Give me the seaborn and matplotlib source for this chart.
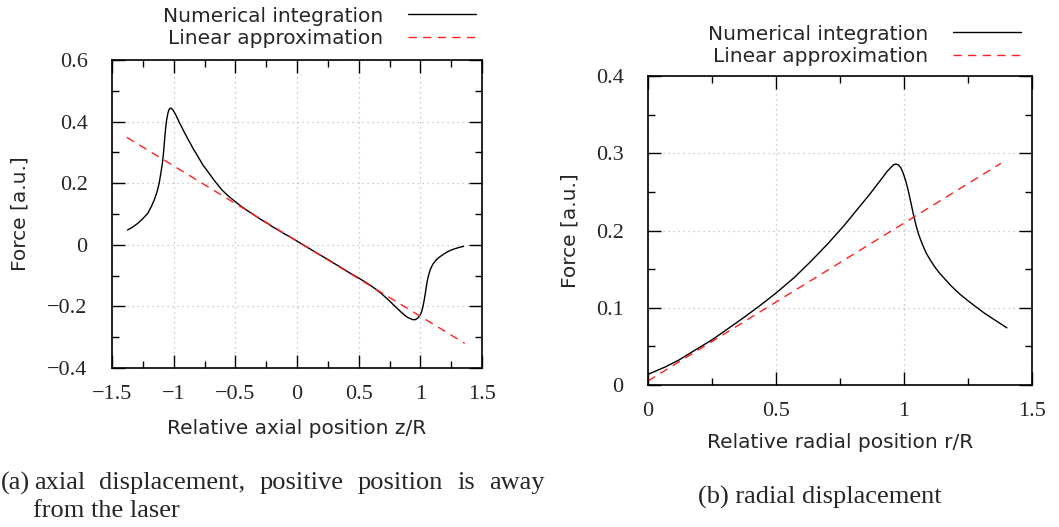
import numpy as np
import pandas as pd
import matplotlib
matplotlib.use("Agg")
import matplotlib.pyplot as plt
from matplotlib.ticker import MultipleLocator
import seaborn as sns

# ---------------- data ----------------
axial_z = [-1.374, -1.33, -1.29, -1.25, -1.21, -1.18, -1.158, -1.135, -1.118, -1.105,
           -1.092, -1.082, -1.074, -1.066, -1.058, -1.048, -1.039, -1.030, -1.021, -1.005,
           -0.987, -0.97, -0.955, -0.938, -0.921, -0.90, -0.88, -0.86, -0.842, -0.82,
           -0.80, -0.78, -0.763, -0.74, -0.72, -0.70, -0.684, -0.665, -0.645, -0.625,
           -0.605, -0.58, -0.55, -0.525, -0.5, -0.475, -0.45, -0.42, -0.395, -0.36,
           -0.33, -0.30, -0.263, -0.23, -0.2, -0.165, -0.132, -0.1, -0.066, -0.033,
           0.0, 0.05, 0.1, 0.15, 0.2, 0.261, 0.30, 0.35, 0.39, 0.43, 0.47, 0.5, 0.55, 0.6,
           0.645, 0.686, 0.725, 0.76, 0.79, 0.819, 0.84, 0.86, 0.88, 0.899, 0.92, 0.939,
           0.96, 0.979, 0.995, 1.004, 1.011, 1.018, 1.025, 1.031, 1.037, 1.043, 1.048,
           1.053, 1.059, 1.068, 1.078, 1.09, 1.105, 1.125, 1.145, 1.165, 1.19, 1.22,
           1.245, 1.271, 1.31, 1.351]
axial_force = [0.048, 0.058, 0.070, 0.085, 0.102, 0.125, 0.145, 0.172, 0.199, 0.230,
               0.263, 0.300, 0.339, 0.375, 0.403, 0.425, 0.438, 0.443, 0.444, 0.437,
               0.425, 0.411, 0.398, 0.385, 0.371, 0.355, 0.340, 0.326, 0.312, 0.298,
               0.284, 0.271, 0.259, 0.247, 0.236, 0.225, 0.216, 0.206, 0.196, 0.186,
               0.177, 0.167, 0.156, 0.148, 0.140, 0.132, 0.124, 0.116, 0.109, 0.100,
               0.092, 0.084, 0.075, 0.067, 0.059, 0.051, 0.043, 0.035, 0.028, 0.020,
               0.012, 0.000, -0.012, -0.024, -0.036, -0.050, -0.060, -0.072, -0.082, -0.092,
               -0.101, -0.108, -0.120, -0.133, -0.146, -0.159, -0.173, -0.186, -0.198, -0.209,
               -0.217, -0.224, -0.231, -0.236, -0.240, -0.243,
               -0.243, -0.238, -0.230, -0.224, -0.216, -0.206, -0.193, -0.180, -0.166, -0.151,
               -0.138, -0.125, -0.112, -0.097, -0.084, -0.072, -0.061, -0.051, -0.043, -0.037,
               -0.030, -0.023, -0.018, -0.014, -0.009, -0.005]
axial_lin_z = [-1.38, 1.36]
axial_lin_force = [0.349, -0.320]

radial_r = [0.0, 0.067, 0.119, 0.183, 0.248, 0.313, 0.377, 0.442, 0.5, 0.571,
            0.636, 0.700, 0.765, 0.829, 0.864, 0.894, 0.915, 0.933, 0.947, 0.959,
            0.968, 0.978, 0.988, 0.997, 1.007, 1.017, 1.027, 1.036, 1.046, 1.055,
            1.066, 1.077, 1.088, 1.104, 1.12, 1.136, 1.152, 1.185, 1.217, 1.25,
            1.282, 1.314, 1.346, 1.374, 1.402]
radial_force = [0.0138, 0.0233, 0.032, 0.045, 0.058, 0.073, 0.088, 0.104, 0.119, 0.139,
                0.160, 0.182, 0.206, 0.232, 0.246, 0.259, 0.268, 0.276, 0.281, 0.285,
                0.286, 0.285, 0.281, 0.274, 0.264, 0.251, 0.236, 0.222, 0.208, 0.197,
                0.187, 0.178, 0.170, 0.161, 0.153, 0.146, 0.140, 0.128, 0.118, 0.109,
                0.101, 0.093, 0.086, 0.080, 0.074]
radial_lin_r = [0.0, 1.379]
radial_lin_force = [0.0052, 0.287]

series_labels = ["Numerical integration", "Linear approximation"]
axial_xticks = [-1.5, -1, -0.5, 0, 0.5, 1, 1.5]
axial_yticks = [-0.4, -0.2, 0, 0.2, 0.4, 0.6]
radial_xticks = [0, 0.5, 1, 1.5]
radial_yticks = [0, 0.1, 0.2, 0.3, 0.4]

caption_a_line1 = "axial displacement, positive position is away"
caption_a_line2 = "from the laser"
caption_b = "(b) radial displacement"

# ---------------- style ----------------
sns.set_theme(style="ticks")
plt.rcParams["font.family"] = ["DejaVu Sans"]
plt.rcParams["axes.unicode_minus"] = True

W, H = 1059, 527
fig = plt.figure(figsize=(W / 100, H / 100), dpi=100)

def px_axes(l, t, r, b):
    return [l / W, 1 - b / H, (r - l) / W, (b - t) / H]

ax1 = fig.add_axes(px_axes(112, 60, 482, 368))
ax2 = fig.add_axes(px_axes(648, 76, 1032, 385))

SERIF = "Liberation Serif"
SANS = "DejaVu Sans"
TICK_FS = 16
LABEL_FS = 14.5

def fmt(v):
    s = ("%g" % v)
    return s.replace("-", "\u2212")

def style_axes(ax, xticks, yticks, xminor, yminor, xlab, ylab, xlab_y, ylab_x):
    ax.set_xlim(xticks[0], xticks[-1])
    ax.set_ylim(yticks[0], yticks[-1])
    ax.set_xticks(xticks)
    ax.set_yticks(yticks)
    ax.set_xticklabels([fmt(v) for v in xticks], fontfamily=SERIF, fontsize=TICK_FS)
    ax.set_yticklabels([fmt(v) for v in yticks], fontfamily=SERIF, fontsize=TICK_FS)
    ax.xaxis.set_minor_locator(MultipleLocator(xminor))
    ax.yaxis.set_minor_locator(MultipleLocator(yminor))
    ax.tick_params(which="both", direction="in", top=True, right=True, color="black",
                   width=1.0)
    ax.tick_params(which="major", length=9.5)
    ax.tick_params(which="minor", length=5)
    ax.tick_params(axis="x", which="major", pad=12.5)
    ax.tick_params(axis="y", which="major", pad=17.5)
    for sp in ax.spines.values():
        sp.set_linewidth(1.2)
        sp.set_color("black")
        sp.set_visible(True)
    ax.grid(True, which="major", color="#bdbdbd", linestyle=(0, (1, 3)), linewidth=0.9)
    ax.set_axisbelow(True)
    ax.set_xlabel(xlab, fontfamily=SANS, fontsize=LABEL_FS)
    ax.set_ylabel(ylab, fontfamily=SANS, fontsize=LABEL_FS)
    ax.xaxis.label.set_va("center")
    ax.yaxis.label.set_va("center")
    ax.xaxis.set_label_coords(0.5, xlab_y)
    ax.yaxis.set_label_coords(ylab_x, 0.5)

def draw(ax, x, y, lx, ly):
    sns.lineplot(x=x, y=y, ax=ax, color="black", linewidth=1.0, label=series_labels[0],
                 sort=False, estimator=None)
    sns.lineplot(x=lx, y=ly, ax=ax, color="#ff2020", linewidth=1.0, label=series_labels[1],
                 sort=False, estimator=None, dashes=False)
    ax.lines[-1].set_linestyle((0, (6, 4.5)))

draw(ax1, axial_z, axial_force, axial_lin_z, axial_lin_force)
draw(ax2, radial_r, radial_force, radial_lin_r, radial_lin_force)

style_axes(ax1, axial_xticks, axial_yticks, 0.25, 0.1,
           "Relative axial position z/R", "Force [a.u.]",
           (368 - 428) / 308, (20 - 112) / 370)
style_axes(ax2, radial_xticks, radial_yticks, 0.25, 0.05,
           "Relative radial position r/R", "Force [a.u.]",
           (385 - 443) / 309, (570 - 648) / 384)

def legend(ax, right_px, top_px):
    leg = ax.legend(loc="upper right", bbox_to_anchor=(right_px / W, 1 - top_px / H),
                    bbox_transform=fig.transFigure, frameon=False, markerfirst=False,
                    borderpad=0, borderaxespad=0, handlelength=3.38, handletextpad=1.24,
                    labelspacing=0.16, prop={"family": SANS, "size": LABEL_FS})
    return leg

legend(ax1, 476, 6.5)
legend(ax2, 1021, 24.5)

# ---------------- captions ----------------
CAP_FS = 19
renderer = fig.canvas.get_renderer()
fig.text(1 / W, 1 - 483 / H, "(a)", fontfamily=SERIF, fontsize=CAP_FS, ha="left", va="center")
# justified first line between x=34 px and x=545 px
words = caption_a_line1.split(" ")
texts = [fig.text(0, 1 - 483 / H, w, fontfamily=SERIF, fontsize=CAP_FS, ha="left", va="center")
         for w in words]
widths = [t.get_window_extent(renderer=renderer).width for t in texts]
x0, x1 = 34.0, 545.0
gap = (x1 - x0 - sum(widths)) / (len(words) - 1)
x = x0
for t, w in zip(texts, widths):
    t.set_x(x / W)
    x += w + gap
fig.text(33 / W, 1 - 511 / H, caption_a_line2, fontfamily=SERIF, fontsize=CAP_FS,
         ha="left", va="center")
fig.text(820 / W, 1 - 497 / H, caption_b, fontfamily=SERIF, fontsize=CAP_FS,
         ha="center", va="center")

fig.savefig("out.png", dpi=100, facecolor="white")
